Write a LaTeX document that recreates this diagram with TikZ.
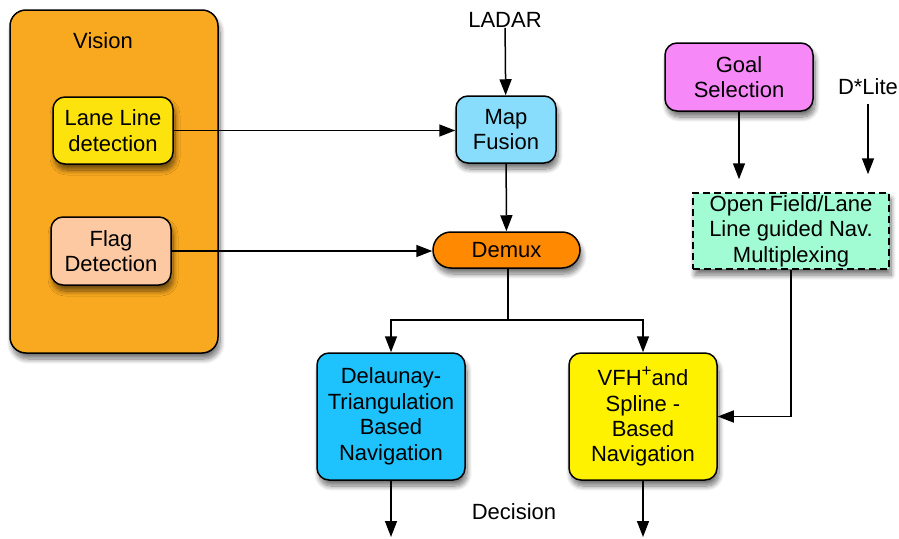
\documentclass[tikz,border=0pt]{standalone}
\usepackage{fontspec}
\setmainfont{Liberation Sans}
\usetikzlibrary{arrows.meta,shadows.blur}

\definecolor{visionorange}{HTML}{F9A91F}
\definecolor{laneyellow}{HTML}{FDE30E}
\definecolor{flagpeach}{HTML}{FCC9A3}
\definecolor{mapblue}{HTML}{88DDFC}
\definecolor{demuxorange}{HTML}{FF8900}
\definecolor{goalpink}{HTML}{F689F7}
\definecolor{muxmint}{HTML}{A1FCD3}
\definecolor{delblue}{HTML}{1EC3FD}
\definecolor{vfhyellow}{HTML}{FFF200}

\begin{document}
\begin{tikzpicture}[x=1pt,y=-1pt,
  every node/.style={font=\fontsize{22}{25.5}\selectfont},
  box/.style={draw=black, line width=1.5pt, rounded corners=12pt,
    align=center, inner sep=0pt,
    blur shadow={shadow xshift=2pt, shadow yshift=-6pt,
      shadow blur radius=5pt, shadow blur steps=10, shadow opacity=55}},
  arr/.style={-{Triangle[length=16pt,width=12pt]}, line width=1.5pt},
  link/.style={line width=1.5pt},
  caption/.style={inner sep=0pt}]
\useasboundingbox (0,0) rectangle (899,538);

% Vision group
\node[box, fill=visionorange, rounded corners=16pt,
  minimum width=208pt, minimum height=343pt] (vision) at (114,181.5) {};
\node[caption] (visiontitle) at (103,41) {Vision};
\node[box, fill=laneyellow, minimum width=120pt, minimum height=67pt]
  (lane) at (113,130.5) {Lane Line\\detection};
\node[box, fill=flagpeach, minimum width=120pt, minimum height=68pt]
  (flag) at (111,251) {Flag\\Detection};

% Fusion and demultiplexing
\node[caption] (ladar) at (505,20) {LADAR};
\node[box, fill=mapblue, minimum width=100pt, minimum height=67pt]
  (map) at (506,129.5) {Map\\Fusion};
\node[box, fill=demuxorange, rounded corners=18pt,
  minimum width=147pt, minimum height=36pt] (demux) at (506.5,250) {Demux};

% Goal and multiplexing
\node[box, fill=goalpink, minimum width=148pt, minimum height=68pt]
  (goal) at (739,77) {Goal\\Selection};
\node[caption] (dlite) at (868,87) {D*Lite};
\node[box, fill=muxmint, rounded corners=0pt, dash pattern=on 7pt off 4pt,
  minimum width=196pt, minimum height=76pt]
  (mux) at (791,231) {Open Field/Lane\\Line guided Nav.\\Multiplexing};

% Navigation methods
\node[box, fill=delblue, minimum width=148pt, minimum height=127pt]
  (del) at (391,416.5) {Delaunay-\\Triangulation\\Based\\Navigation};
\node[box, fill=vfhyellow, minimum width=148pt, minimum height=127pt]
  (vfh) at (643,416.5)
  {VFH\raisebox{0.42em}{\fontsize{17}{17}\selectfont+}and\\Spline -\\Based\\Navigation};
\node[caption] (decision) at (514,512) {Decision};

% Connectors
\draw[arr] (ladar) -- (map);
\draw[arr] (lane.east) -- (lane.east -| map.west);
\draw[arr] (flag.east) -- (flag.east -| demux.west);
\draw[arr] (map) -- (demux);

\coordinate (split) at (508,320);
\draw[link] (demux.south -| split) -- (split);
\draw[arr] (split) -| (del.north);
\draw[arr] (split) -| (vfh.north);

\draw[arr, shorten >=13pt] (goal) -- (goal |- mux.north);
\draw[arr, shorten <=9pt, shorten >=18pt] (dlite) -- (dlite |- mux.north);
\draw[arr] (mux.south) |- (vfh.east);

\coordinate (delout) at (391,537);
\coordinate (vfhout) at (643,537);
\draw[arr] (del) -- (delout);
\draw[arr] (vfh) -- (vfhout);
\end{tikzpicture}
\end{document}
